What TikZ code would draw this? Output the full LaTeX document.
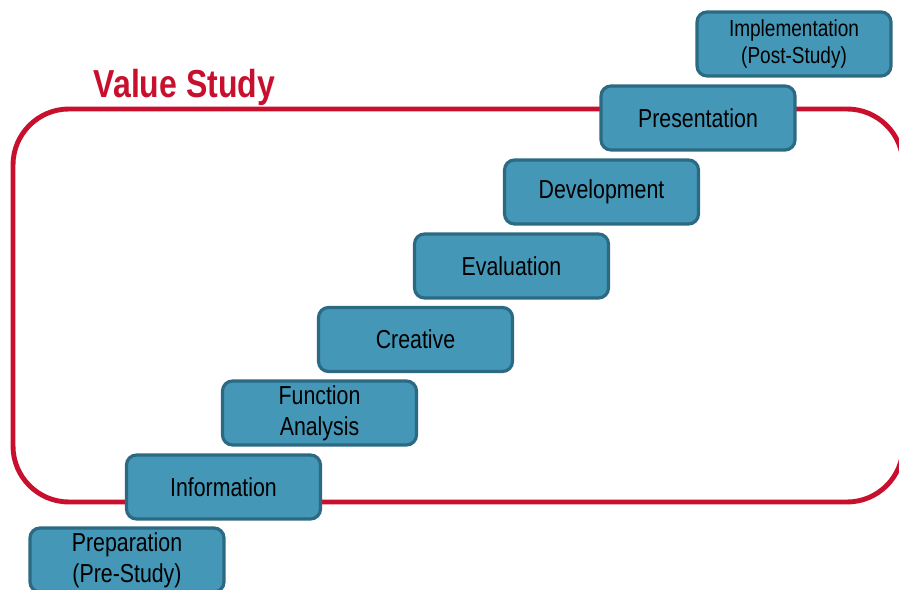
\documentclass[tikz,border=0pt]{standalone}
\usepackage{fontspec}
\setmainfont[FakeStretch=0.82]{Liberation Sans}
\usepackage{tikz}
\usetikzlibrary{positioning}
\definecolor{stagefill}{HTML}{4497B6}
\definecolor{stageline}{HTML}{2B6A82}
\definecolor{valuered}{HTML}{C8102E}

\begin{document}
\begin{tikzpicture}[font=\fontsize{7.4}{8.7}\selectfont]
\useasboundingbox (0,0) rectangle (8.99,-5.90);
\tikzset{stagebox/.style={draw=stageline, fill=stagefill, line width=0.9pt, rounded corners=0.1cm,
  minimum width=1.94cm, minimum height=0.64cm, align=center, inner sep=0pt}}
% study frame
\draw[valuered, line width=1.4pt, rounded corners=0.56cm] (0.13,-1.09) rectangle (9.03,-5.02);
\node[anchor=base west, text=valuered, font=\fontsize{11.1}{12}\selectfont\bfseries, inner sep=0pt] (title) at (0.93,-0.98) {Value Study};

\node[stagebox] (prep) at (1.27,-5.60) {Preparation\\(Pre-Study)};
\node[stagebox] (info) at (2.235,-4.87) {Information};
\node[stagebox] (func) at (3.195,-4.13) {Function\\Analysis};
\node[stagebox] (crea) at (4.155,-3.395) {Creative};
\node[stagebox] (eval) at (5.115,-2.66) {Evaluation};
\node[stagebox] (devel) at (6.015,-1.92) {Development};
\node[stagebox] (pres) at (6.98,-1.18) {Presentation};
\node[stagebox, font=\fontsize{6.6}{7.6}\selectfont] (impl) at (7.94,-0.44) {Implementation\\(Post-Study)};
\end{tikzpicture}
\end{document}
